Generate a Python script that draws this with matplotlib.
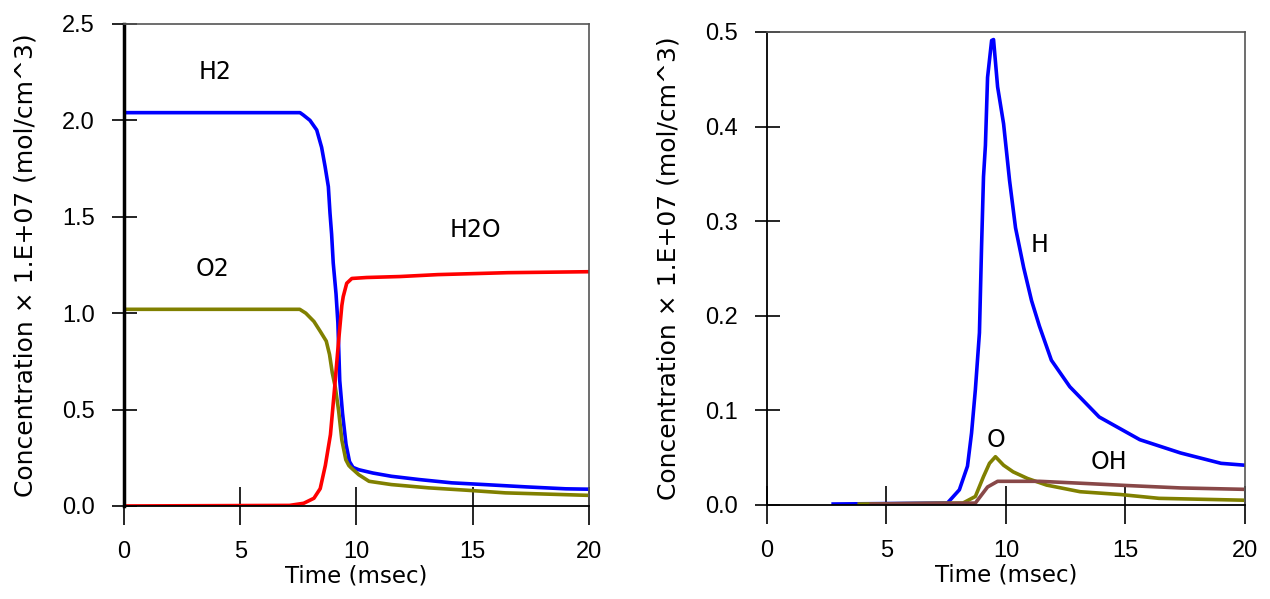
import matplotlib
matplotlib.use("Agg")
import matplotlib.pyplot as plt

tick_fs = 17
label_fs = 18
xlabel_fs = 16.5
note_fs = 17

plt.rcParams["font.family"] = ["DejaVu Sans"]

# left panel: major species (x 1.E+07 mol/cm^3)
t_h2 = [0, 7.57, 7.71, 8.0, 8.29, 8.5, 8.65, 8.79, 8.86, 8.93, 9.0, 9.12, 9.2, 9.28, 9.4,
        9.55, 9.7, 9.85, 10.1, 10.7, 11.5, 12.7, 14.1, 15.5, 17.3, 19.0, 20]
h2 = [2.04, 2.04, 2.028, 2.0, 1.95, 1.86, 1.76, 1.656, 1.52, 1.41, 1.26, 1.10, 0.95, 0.65, 0.48,
      0.32, 0.23, 0.2, 0.188, 0.171, 0.154, 0.137, 0.12, 0.111, 0.099, 0.089, 0.087]

t_o2 = [0, 7.56, 7.82, 8.17, 8.44, 8.7, 8.84, 8.96, 9.09, 9.23, 9.37, 9.54, 9.67, 9.75,
        10.1, 10.54, 11.5, 13.1, 14.7, 16.4, 20]
o2 = [1.02, 1.02, 1.0, 0.957, 0.906, 0.855, 0.786, 0.69, 0.615, 0.496, 0.342, 0.24, 0.21, 0.2,
      0.162, 0.128, 0.111, 0.094, 0.082, 0.068, 0.055]

t_h2o = [0, 7.12, 7.73, 8.17, 8.44, 8.66, 8.88, 9.05, 9.23, 9.37, 9.43, 9.58, 9.8,
         10.44, 11.87, 13.5, 16.5, 20]
h2o = [0.0, 0.003, 0.014, 0.04, 0.09, 0.21, 0.37, 0.6, 0.855, 1.04, 1.086, 1.155, 1.18,
       1.185, 1.19, 1.20, 1.21, 1.215]

# right panel: radicals
t_h = [2.77, 7.55, 8.05, 8.39, 8.56, 8.72, 8.89, 8.98, 9.06, 9.14, 9.23, 9.4, 9.48,
       9.65, 9.9, 10.15, 10.4, 10.74, 11.07, 11.4, 11.9, 12.67, 13.9, 15.6, 17.3, 19.0, 20]
h = [0.001, 0.002, 0.016, 0.041, 0.076, 0.122, 0.182, 0.274, 0.347, 0.38, 0.452, 0.491, 0.492,
     0.442, 0.403, 0.343, 0.293, 0.251, 0.216, 0.189, 0.153, 0.125, 0.093, 0.069, 0.055, 0.044, 0.042]

t_o = [3.86, 8.2, 8.72, 9.06, 9.31, 9.56, 9.9, 10.3, 10.9, 11.7, 13.1, 14.8, 16.4, 20]
o = [0.001, 0.002, 0.009, 0.03, 0.044, 0.051, 0.042, 0.035, 0.028, 0.021, 0.014, 0.011, 0.007, 0.005]

t_oh = [4.36, 8.72, 9.23, 9.65, 11.4, 13.1, 15.1, 17.3, 20]
oh = [0.001, 0.002, 0.019, 0.025, 0.025, 0.023, 0.0205, 0.018, 0.0165]

ylabel = "Concentration \u00d7 1.E+07 (mol/cm^3)"

fig = plt.figure(figsize=(12.7, 5.99), dpi=100)
ax1 = fig.add_axes([0.0976, 0.1553, 0.3662, 0.8047])
ax2 = fig.add_axes([0.6039, 0.157, 0.3764, 0.7896])


def style(ax, left_lw):
    ax.spines["top"].set_color("#555555")
    ax.spines["right"].set_color("#555555")
    ax.spines["top"].set_linewidth(1.2)
    ax.spines["right"].set_linewidth(1.2)
    ax.spines["bottom"].set_linewidth(1.3)
    ax.spines["left"].set_linewidth(left_lw)
    ax.set_xlim(0, 20)
    ax.set_xticks([0, 5, 10, 15, 20])
    ax.tick_params(axis="x", direction="inout", length=27, width=1.2, pad=12)
    ax.tick_params(axis="y", direction="inout", length=18, width=1.2, pad=12)
    for lab in ax.get_xticklabels() + ax.get_yticklabels():
        lab.set_fontfamily("Liberation Sans")
        lab.set_fontsize(tick_fs)
    ax.set_xlabel("Time (msec)", fontsize=xlabel_fs, labelpad=1)
    ax.set_ylabel(ylabel, fontsize=label_fs, labelpad=18)


ax1.plot(t_h2, h2, color="#0000ff", lw=2.6)
ax1.plot(t_o2, o2, color="#808000", lw=2.6)
ax1.plot(t_h2o, h2o, color="#ff0000", lw=2.6)
ax1.set_ylim(0, 2.5)
ax1.set_yticks([0, 0.5, 1.0, 1.5, 2.0, 2.5], ["0.0", "0.5", "1.0", "1.5", "2.0", "2.5"])
style(ax1, 2.5)
ax1.text(3.9, 2.25, "H2", fontsize=note_fs, ha="center", va="center")
ax1.text(3.8, 1.23, "O2", fontsize=note_fs, ha="center", va="center")
ax1.text(15.1, 1.43, "H2O", fontsize=note_fs, ha="center", va="center")

ax2.plot(t_h, h, color="#0000ff", lw=2.6)
ax2.plot(t_o, o, color="#808000", lw=2.6)
ax2.plot(t_oh, oh, color="#884848", lw=2.6)
ax2.set_ylim(0, 0.5)
ax2.set_yticks([0, 0.1, 0.2, 0.3, 0.4, 0.5], ["0.0", "0.1", "0.2", "0.3", "0.4", "0.5"])
style(ax2, 1.3)
ax2.text(11.4, 0.275, "H", fontsize=note_fs, ha="center", va="center")
ax2.text(9.6, 0.069, "O", fontsize=note_fs, ha="center", va="center")
ax2.text(14.3, 0.045, "OH", fontsize=note_fs, ha="center", va="center")

fig.savefig("out.png", dpi=100)
